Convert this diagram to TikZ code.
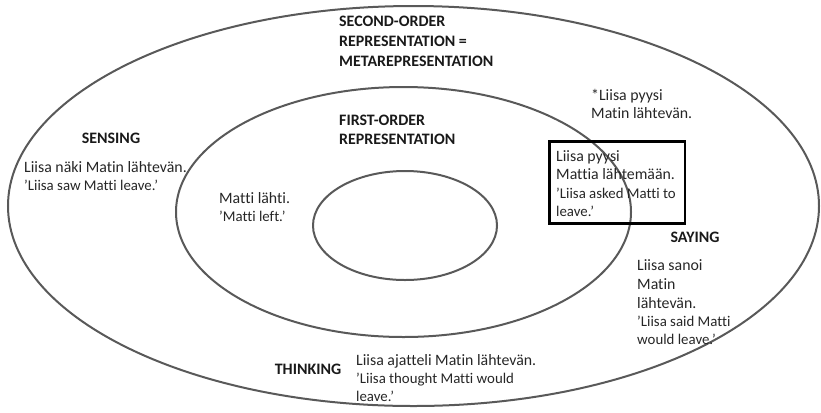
\documentclass[tikz,border=0pt]{standalone}
\usepackage{fontspec}
\setmainfont[Ligatures={NoCommon}]{Carlito}
\begin{document}
\begin{tikzpicture}[x=1bp,y=-1bp,
  ring/.style={draw=black!65,line width=2bp},
  hd/.style={anchor=base west,inner sep=0,font=\fontsize{16}{19}\selectfont\bfseries,text=black!90},
  hdc/.style={anchor=base,inner sep=0,font=\fontsize{16}{19}\selectfont\bfseries,text=black!90},
  fi/.style={anchor=base west,inner sep=0,font=\fontsize{15.9}{19}\selectfont,text=black!85},
  gl/.style={anchor=base west,inner sep=0,font=\fontsize{14.9}{18}\selectfont,text=black!85},
  frame/.style={draw=black,line width=2.6bp}]
\useasboundingbox (0,0) rectangle (821,412);
% ellipses
\draw[ring] (413.5,206) ellipse [x radius=405.5,y radius=200];
\draw[ring] (403.5,212) ellipse [x radius=227.5,y radius=125];
\draw[ring] (405,225.5) ellipse [x radius=92,y radius=54.5];
% second order
\node[hd] (so1) at (339,26) {SECOND-ORDER};
\node[hd] (so2) at (339,46) {REPRESENTATION =};
\node[hd] (so3) at (339,66) {METAREPRESENTATION};
% first order
\node[hd] (fo1) at (339,125) {FIRST-ORDER};
\node[hd] (fo2) at (339,144.5) {REPRESENTATION};
% sensing
\node[hdc] (sens) at (111,143) {SENSING};
\node[fi] (sens1) at (24,172) {Liisa näki Matin lähtevän.};
\node[gl] (sens2) at (24,190) {’Liisa saw Matti leave.’};
% matti
\node[fi] (m1) at (219,203) {Matti lähti.};
\node[gl] (m2) at (219,221) {’Matti left.’};
% star
\node[fi] (st1) at (591,100) {*Liisa pyysi};
\node[fi] (st2) at (591,118.5) {Matin lähtevän.};
% box
\node[fi] (b1) at (556,161) {Liisa pyysi};
\node[fi] (b2) at (556,179.5) {Mattia lähtemään.};
\node[gl] (b3) at (556,198) {’Liisa asked Matti to};
\node[gl] (b4) at (556,216) {leave.’};
\draw[frame] (549.5,141.5) rectangle (685,223.5);
% saying
\node[hdc] (say) at (695,242) {SAYING};
\node[fi] (sa1) at (637,270) {Liisa sanoi};
\node[fi] (sa2) at (637,289) {Matin};
\node[fi] (sa3) at (637,308) {lähtevän.};
\node[gl] (sa4) at (637,326) {’Liisa said Matti};
\node[gl] (sa5) at (637,344) {would leave.’};
% thinking
\node[hdc] (think) at (308,374) {THINKING};
\node[fi] (t1) at (356,365) {Liisa ajatteli Matin lähtevän.};
\node[gl] (t2) at (356,383) {’Liisa thought Matti would};
\node[gl] (t3) at (356,401) {leave.’};
\end{tikzpicture}
\end{document}
